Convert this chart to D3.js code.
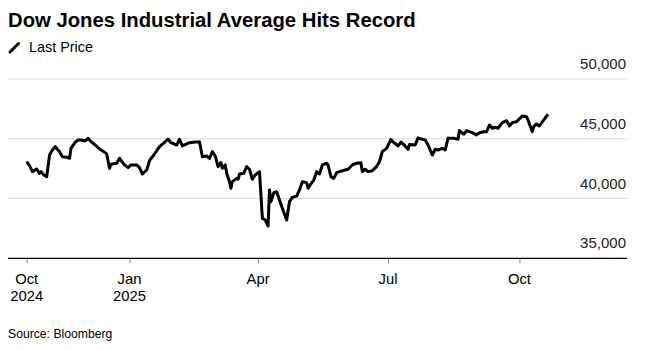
<!doctype html>
<html>
  <head>
    <meta charset="utf-8">
    <title>Dow Jones Industrial Average Hits Record</title>
    <script type="text/javascript" src="https://d3js.org/d3.v7.min.js"></script>
    <style>
      body { margin: 0; background: #fff; }
      text { font-family: "Liberation Sans", Arial, Helvetica, sans-serif; }
    </style>
  </head>
  <body>
    <script>
      // Dow Jones closing levels
      const dates = [
        '2024-10-21', '2024-10-23', '2024-10-25', '2024-10-28', '2024-10-30', '2024-10-31',
        '2024-11-02', '2024-11-04', '2024-11-06', '2024-11-08', '2024-11-10', '2024-11-13',
        '2024-11-15', '2024-11-18', '2024-11-20', '2024-11-21', '2024-11-24', '2024-11-26',
        '2024-11-28', '2024-12-01', '2024-12-03', '2024-12-05', '2024-12-08', '2024-12-11',
        '2024-12-14', '2024-12-16', '2024-12-18', '2024-12-19', '2024-12-23', '2024-12-25',
        '2024-12-28', '2024-12-31', '2025-01-02', '2025-01-06', '2025-01-08', '2025-01-10',
        '2025-01-13', '2025-01-15', '2025-01-18', '2025-01-22', '2025-01-26', '2025-01-28',
        '2025-01-30', '2025-02-03', '2025-02-05', '2025-02-07', '2025-02-10', '2025-02-12',
        '2025-02-16', '2025-02-19', '2025-02-21', '2025-02-24', '2025-02-26', '2025-02-28',
        '2025-03-02', '2025-03-04', '2025-03-06', '2025-03-07', '2025-03-09', '2025-03-10',
        '2025-03-12', '2025-03-13', '2025-03-14', '2025-03-17', '2025-03-18', '2025-03-19',
        '2025-03-22', '2025-03-24', '2025-03-26', '2025-03-28', '2025-03-30', '2025-04-02',
        '2025-04-04', '2025-04-06', '2025-04-08', '2025-04-09', '2025-04-10', '2025-04-12',
        '2025-04-14', '2025-04-18', '2025-04-21', '2025-04-23', '2025-04-25', '2025-04-28',
        '2025-04-30', '2025-05-02', '2025-05-05', '2025-05-06', '2025-05-08', '2025-05-10',
        '2025-05-12', '2025-05-14', '2025-05-16', '2025-05-19', '2025-05-20', '2025-05-22',
        '2025-05-24', '2025-05-26', '2025-05-28', '2025-06-01', '2025-06-03', '2025-06-06',
        '2025-06-09', '2025-06-12', '2025-06-13', '2025-06-15', '2025-06-17', '2025-06-20',
        '2025-06-23', '2025-06-25', '2025-06-27', '2025-06-30', '2025-07-03', '2025-07-05',
        '2025-07-08', '2025-07-10', '2025-07-12', '2025-07-15', '2025-07-16', '2025-07-20',
        '2025-07-22', '2025-07-25', '2025-07-27', '2025-07-29', '2025-08-01', '2025-08-03',
        '2025-08-05', '2025-08-08', '2025-08-10', '2025-08-12', '2025-08-16', '2025-08-19',
        '2025-08-20', '2025-08-23', '2025-08-25', '2025-08-29', '2025-09-01', '2025-09-03',
        '2025-09-06', '2025-09-08', '2025-09-10', '2025-09-12', '2025-09-14', '2025-09-16',
        '2025-09-19', '2025-09-22', '2025-09-24', '2025-09-26', '2025-09-29', '2025-10-03',
        '2025-10-06', '2025-10-07', '2025-10-10', '2025-10-11', '2025-10-13', '2025-10-15',
        '2025-10-18', '2025-10-21'
      ];
      const lastPrice = [
        43080, 42750, 42250, 42470, 42110, 42250,
        41970, 41830, 43640, 44060, 44340, 43920,
        43500, 43450, 43370, 44200, 44710, 44900,
        44900, 44820, 45040, 44760, 44480, 44150,
        43920, 43730, 42530, 42870, 42950, 43370,
        42870, 42580, 42810, 42810, 42580, 42050,
        42390, 43170, 43640, 44340, 44760, 44980,
        44670, 44480, 44960, 44400, 44570, 44670,
        44730, 44730, 43500, 43560, 43350, 43920,
        43560, 42670, 43000, 42530, 42810, 42110,
        41410, 40860, 41410, 41690, 41610, 42050,
        42110, 42670, 42450, 41610, 41970, 42250,
        38350, 38200, 37700, 40720, 39740, 40490,
        40570, 39180, 38200, 39740, 40100, 40210,
        40720, 41410, 41330, 40860, 41220, 41550,
        42250, 42050, 42810, 42950, 42810, 41830,
        41690, 42160, 42250, 42390, 42450, 42810,
        42950, 43000, 42250, 42450, 42250, 42330,
        42670, 43080, 43920, 44200, 44930, 44690,
        44400, 44720, 44520, 44120, 44520, 44480,
        45080, 44960, 44900, 44480, 43640, 44120,
        44060, 44200, 44060, 45040, 45040, 44960,
        45680, 45380, 45680, 45510, 45320, 45510,
        45590, 45590, 46150, 45880, 45960, 45880,
        46350, 46510, 46070, 46350, 46430, 46910,
        46850, 46570, 45590, 46010, 46240, 46070,
        46570, 47050
      ];

      // axis ticks
      const yTicks = [35000, 40000, 45000, 50000];
      const xTickDates = ['2024-10-21', '2025-01-01', '2025-04-01', '2025-07-01', '2025-10-01'];
      const xTickMonths = ['Oct', 'Jan', 'Apr', 'Jul', 'Oct'];
      const xTickYears = ['2024', '2025', '', '', ''];

      const svgWidth = 649;
      const svgHeight = 350;

      const parse = d3.utcParse('%Y-%m-%d');
      const data = dates.map((d, i) => ({ date: parse(d), value: lastPrice[i] }));

      const svg = d3.select('body').append('svg')
          .attr('width', svgWidth)
          .attr('height', svgHeight);

      // title + legend
      svg.append('text')
          .attr('x', 8)
          .attr('y', 27)
          .attr('font-size', 20.3)
          .attr('font-weight', 'bold')
          .attr('fill', '#000')
          .text('Dow Jones Industrial Average Hits Record');

      svg.append('line')
          .attr('x1', 10).attr('y1', 52)
          .attr('x2', 18.5).attr('y2', 43.5)
          .attr('stroke', '#000')
          .attr('stroke-width', 3)
          .attr('stroke-linecap', 'round');
      svg.append('text')
          .attr('x', 29)
          .attr('y', 52)
          .attr('font-size', 14.4)
          .attr('fill', '#000')
          .text('Last Price');

      // scales
      const plotLeft = 8;
      const plotRight = 627;
      const xScale = d3.scaleUtc()
          .domain([parse('2024-10-21'), parse('2025-10-21')])
          .range([26.7, 548]);
      const yScale = d3.scaleLinear()
          .domain([35000, 50000])
          .range([258.3, 79]);

      // gridlines and y labels
      const gGrid = svg.append('g');
      gGrid.selectAll('line')
        .data(yTicks.filter(v => v !== 35000))
        .enter().append('line')
          .attr('x1', plotLeft)
          .attr('x2', plotRight)
          .attr('y1', d => yScale(d))
          .attr('y2', d => yScale(d))
          .attr('stroke', '#dcdcdc')
          .attr('stroke-width', 1);
      gGrid.selectAll('text')
        .data(yTicks)
        .enter().append('text')
          .attr('x', 626)
          .attr('y', d => yScale(d) - 10)
          .attr('text-anchor', 'end')
          .attr('font-size', 15)
          .attr('fill', '#222')
          .text(d => d3.format(',')(d));

      // x axis
      const xAxis = d3.axisBottom(xScale)
          .tickValues(xTickDates.map(parse))
          .tickSize(5)
          .tickFormat('');
      const gX = svg.append('g')
          .attr('transform', `translate(0, ${yScale(35000)})`)
          .call(xAxis);
      gX.select('.domain').remove();
      gX.selectAll('.tick line').attr('stroke', '#888');
      svg.append('line')
          .attr('x1', plotLeft)
          .attr('x2', plotRight)
          .attr('y1', yScale(35000))
          .attr('y2', yScale(35000))
          .attr('stroke', '#000')
          .attr('stroke-width', 1.3);

      const gXLabels = svg.append('g')
          .attr('font-size', 14.8)
          .attr('fill', '#000')
          .attr('text-anchor', 'middle');
      xTickDates.forEach((d, i) => {
        const x = xScale(parse(d));
        gXLabels.append('text').attr('x', x).attr('y', 283.5).text(xTickMonths[i]);
        if (xTickYears[i]) {
          gXLabels.append('text').attr('x', x).attr('y', 301).text(xTickYears[i]);
        }
      });

      // price line
      const linePath = d3.line()
          .x(d => xScale(d.date))
          .y(d => yScale(d.value));
      svg.append('path')
          .datum(data)
          .attr('d', linePath)
          .attr('fill', 'none')
          .attr('stroke', '#000')
          .attr('stroke-width', 3)
          .attr('stroke-linejoin', 'round');

      // source
      svg.append('text')
          .attr('x', 8)
          .attr('y', 337.5)
          .attr('font-size', 12.2)
          .attr('fill', '#000')
          .text('Source: Bloomberg');
    </script>
  </body>
</html>
